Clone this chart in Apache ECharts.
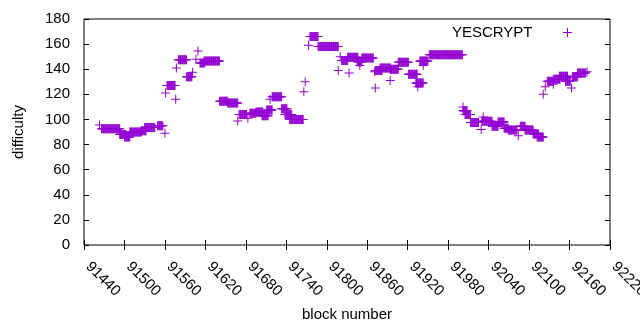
<!DOCTYPE html>
<html>
<head>
<meta charset="utf-8">
<script src="https://cdn.jsdelivr.net/npm/echarts@6/dist/echarts.min.js"></script>
<style>
  html, body { margin: 0; padding: 0; background: #fff; }
  #chart { width: 640px; height: 330px; }
</style>
</head>
<body>
<div id="chart"></div>
<script>
// difficulty: runs of blocks sharing one value (start, end, value)
var runStart = [91463, 91466, 91494, 91493, 91500, 91508, 91525, 91530, 91549, 91560,
  91561, 91563, 91576, 91577, 91580, 91592, 91601, 91606, 91609, 91612,
  91618, 91641, 91653, 91668, 91670, 91683, 91686, 91695, 91704, 91711,
  91716, 91719, 91733, 91738, 91745, 91766, 91768, 91773, 91775, 91787,
  91817, 91820, 91822, 91831, 91833, 91845, 91849, 91852, 91872, 91871,
  91872, 91879, 91894, 91894, 91906, 91921, 91932, 91935, 91943, 91938,
  91952, 92002, 92002, 92005, 92013, 92029, 92032, 92030, 92045, 92054,
  92063, 92069, 92084, 92087, 92094, 92106, 92112, 92121, 92124, 92127,
  92136, 92136, 92145, 92154, 92163, 92164, 92172, 92186];
var runEnd = [91463, 91493, 91494, 91502, 91508, 91525, 91532, 91545, 91557, 91560,
  91561, 91575, 91576, 91577, 91592, 91600, 91601, 91606, 91609, 91619,
  91641, 91653, 91668, 91668, 91681, 91683, 91695, 91705, 91713, 91719,
  91716, 91733, 91741, 91748, 91765, 91766, 91768, 91773, 91787, 91817,
  91817, 91820, 91831, 91846, 91833, 91852, 91849, 91869, 91872, 91871,
  91882, 91894, 91894, 91906, 91921, 91934, 91943, 91935, 91943, 91950,
  92001, 92002, 92008, 92013, 92025, 92029, 92032, 92045, 92054, 92063,
  92069, 92082, 92084, 92094, 92106, 92114, 92121, 92121, 92124, 92136,
  92136, 92146, 92157, 92161, 92163, 92172, 92184, 92186];
var runValue = [95.5, 92.5, 88.5, 88, 86, 90, 91, 93.5, 95, 89,
  121, 127, 116, 141, 147.5, 134, 137.5, 148, 154.5, 145,
  146.5, 114.5, 113, 98.7, 104, 101, 105, 106, 103, 107.5,
  116, 118, 108.5, 104, 100, 122, 130, 159, 166, 158,
  139, 150, 147, 149.5, 137, 146, 143, 149, 125, 138,
  139, 141, 131, 140, 145.5, 136, 129, 126, 143, 146.5,
  151.5, 110, 107, 104, 97.5, 92, 102, 98.5, 94.5, 98,
  93, 91.5, 87, 94.5, 91.5, 88.5, 86, 120, 126, 130.5,
  128, 132, 134.5, 130.5, 125, 134, 137, 138];

var seriesName = 'YESCRYPT';
var xTickMin = 91440, xTickMax = 92220, xTickStep = 60;
var yTickMin = 0, yTickMax = 180, yTickStep = 20;

var points = [];
for (var i = 0; i < runStart.length; i++) {
  for (var b = runStart[i]; b <= runEnd[i]; b++) {
    points.push([b, runValue[i]]);
  }
}

var plus = 'path://M0,4h9v1h-9z M4,0h1v9h-1z';
var purple = '#9400d3';
var font = "'Liberation Sans', Arial, sans-serif";

var myChart = echarts.init(document.getElementById('chart'));
myChart.setOption({
  animation: false,
  textStyle: { fontFamily: font },
  grid: {
    left: 84, right: 30, top: 19, bottom: 85,
    outerBoundsMode: 'none',
    containLabel: false,
    show: true, borderColor: '#000', borderWidth: 1, backgroundColor: 'transparent'
  },
  legend: {
    data: [{ name: seriesName, icon: plus }],
    top: 20, right: 63,
    align: 'right',
    itemWidth: 60, itemHeight: 9,
    textStyle: { fontSize: 15, color: '#000', fontFamily: font }
  },
  xAxis: [{
    type: 'value',
    min: xTickMin, max: xTickMax, interval: xTickStep,
    name: 'block number', nameLocation: 'middle', nameGap: 62,
    nameTextStyle: { fontSize: 15, color: '#000', fontFamily: font },
    axisLine: { show: false },
    axisTick: { inside: true, length: 5, lineStyle: { color: '#000' } },
    axisLabel: {
      rotate: -45, margin: 15, fontSize: 15, color: '#000', fontFamily: font,
      padding: [0, 0, 0, 6],
      formatter: function (v) { return String(v); }
    },
    splitLine: { show: false }
  }, {
    type: 'value', position: 'top',
    min: xTickMin, max: xTickMax, interval: xTickStep,
    axisLine: { show: false },
    axisTick: { inside: true, length: 5, lineStyle: { color: '#000' } },
    axisLabel: { show: false },
    splitLine: { show: false }
  }],
  yAxis: [{
    type: 'value',
    min: yTickMin, max: yTickMax, interval: yTickStep,
    name: 'difficulty', nameLocation: 'middle', nameGap: 58,
    nameTextStyle: { fontSize: 15, color: '#000', fontFamily: font },
    axisLine: { show: false },
    axisTick: { inside: true, length: 5, lineStyle: { color: '#000' } },
    axisLabel: { margin: 14, fontSize: 15, color: '#000', fontFamily: font },
    splitLine: { show: false }
  }, {
    type: 'value', position: 'right',
    min: yTickMin, max: yTickMax, interval: yTickStep,
    axisLine: { show: false },
    axisTick: { inside: true, length: 5, lineStyle: { color: '#000' } },
    axisLabel: { show: false },
    splitLine: { show: false }
  }],
  series: [{
    name: seriesName,
    type: 'scatter',
    xAxisIndex: 0, yAxisIndex: 0,
    symbol: plus,
    symbolSize: 9,
    itemStyle: { color: purple, opacity: 1 },
    emphasis: { disabled: true },
    data: points
  }]
});
</script>
</body>
</html>
